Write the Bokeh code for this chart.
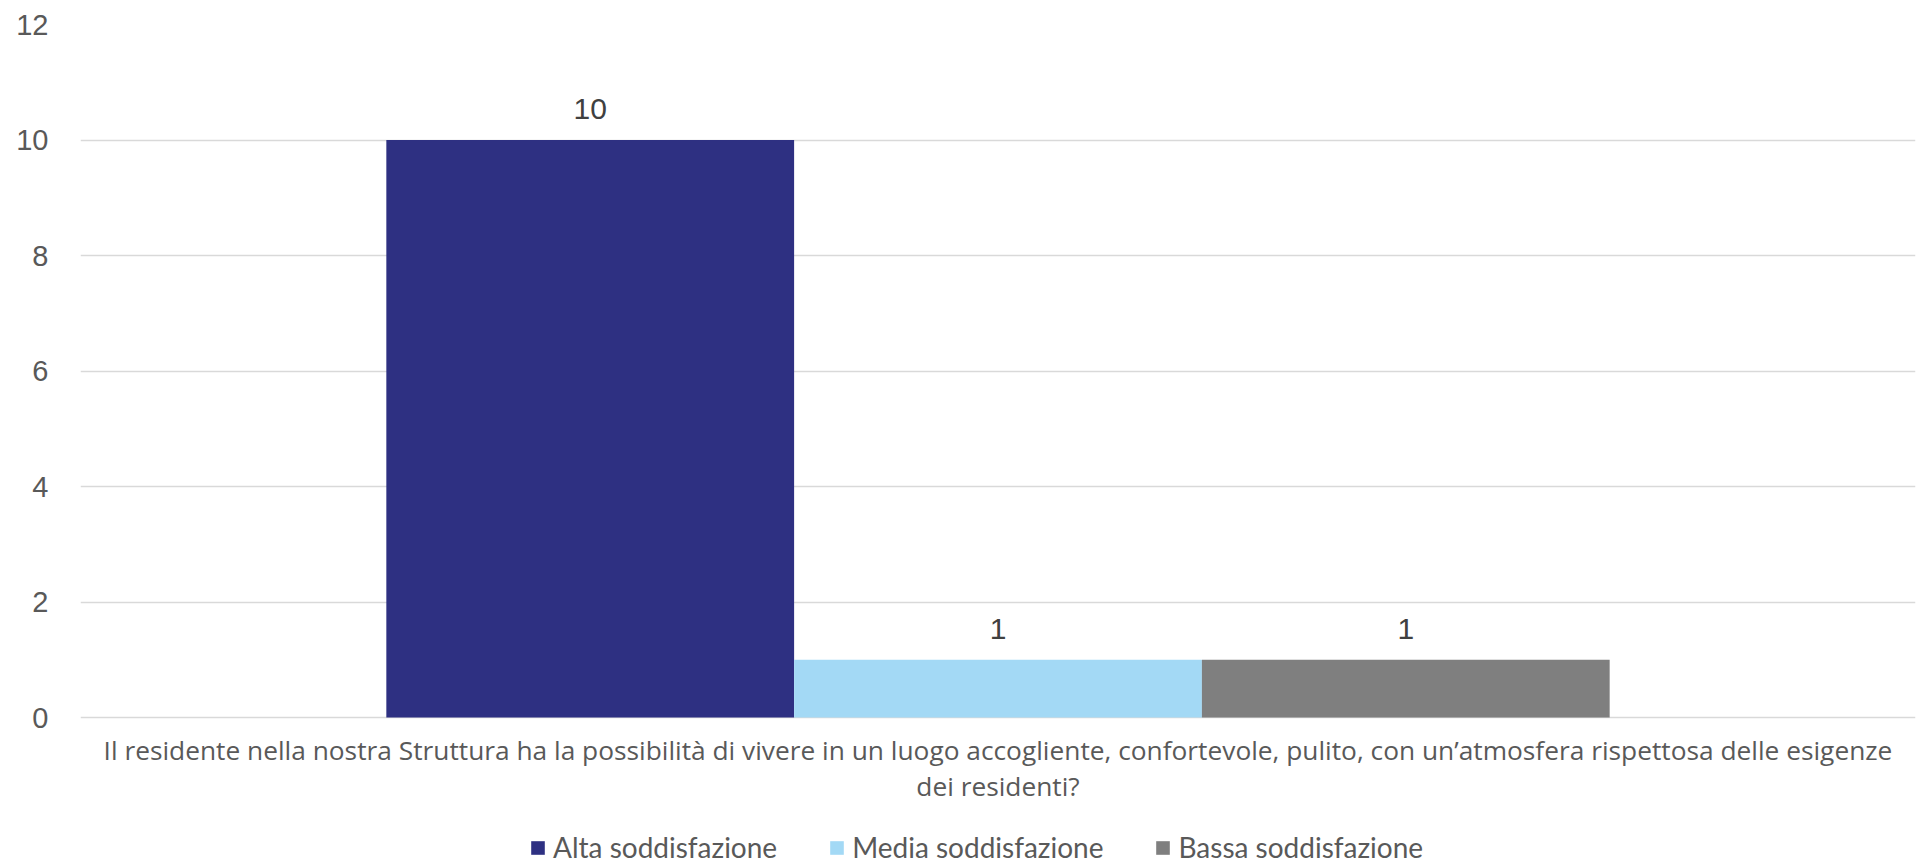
from bokeh.plotting import figure
from bokeh.models import FactorRange, ColumnDataSource, Legend, LegendItem, Range1d, FixedTicker
from bokeh.transform import dodge
from bokeh.core.properties import value
from bokeh.embed import file_html
from bokeh.resources import INLINE

# ---- data ----
categories = ["Il residente nella nostra Struttura ha la possibilità di vivere in un luogo accogliente, confortevole, pulito, con un’atmosfera rispettosa delle esigenze dei residenti?"]
category_label_lines = [
    "Il residente nella nostra Struttura ha la possibilità di vivere in un luogo accogliente, confortevole, pulito, con un’atmosfera rispettosa delle esigenze",
    "dei residenti?",
]
series_names = ["Alta soddisfazione", "Media soddisfazione", "Bassa soddisfazione"]
alta = [10]
media = [1]
bassa = [1]
series_colors = ["#2E3082", "#A3D9F5", "#7F7F7F"]
y_ticks = [0, 2, 4, 6, 8, 10, 12]

# ---- layout constants ----
W, H = 1921, 864
FRAME_LEFT, FRAME_RIGHT_PAD, FRAME_TOP = 80, 6, 24
PX_PER_UNIT = 693 / 12.0
y_top = 12
# frame runs to the bottom edge so the category label and legend sit inside it
y_bottom = y_top - (H - FRAME_TOP) / PX_PER_UNIT

# ---- source ----
series_values = [alta, media, bassa]
data = {"cat": categories, "cat_label": ["\n".join(category_label_lines)]}
for i, vals in enumerate(series_values):
    data[f"v{i}"] = vals
    data[f"l{i}"] = [str(v) for v in vals]
source = ColumnDataSource(data)

bar_w = 1 / 4.5  # Excel gap width 150%
offsets = [-bar_w, 0.0, bar_w]

p = figure(
    x_range=FactorRange(factors=categories, range_padding=0),
    y_range=Range1d(y_bottom, y_top),
    width=W, height=H,
    output_backend="svg", toolbar_location=None,
    x_axis_location=None,
    min_border_left=FRAME_LEFT, min_border_right=FRAME_RIGHT_PAD,
    min_border_top=FRAME_TOP, min_border_bottom=0,
)
p.outline_line_color = None
p.background_fill_color = "white"
p.border_fill_color = "white"

p.xgrid.grid_line_color = None
p.ygrid.grid_line_color = "#D9D9D9"
p.ygrid.grid_line_width = 1.3

p.yaxis.ticker = FixedTicker(ticks=y_ticks)
p.yaxis.axis_line_color = None
p.yaxis.major_tick_line_color = None
p.yaxis.minor_tick_line_color = None
p.yaxis.major_tick_out = 0
p.yaxis.major_label_standoff = 32
p.yaxis.major_label_text_font = "Liberation Sans"
p.yaxis.major_label_text_font_size = "29px"
p.yaxis.major_label_text_color = "#595959"

items = []
for i in range(3):
    r = p.vbar(x=dodge("cat", offsets[i], range=p.x_range), top=f"v{i}", width=bar_w,
               source=source, fill_color=series_colors[i], line_color=None)
    p.text(x=dodge("cat", offsets[i], range=p.x_range), y=f"v{i}", text=f"l{i}",
           source=source, text_align="center", text_baseline="alphabetic",
           y_offset=-31, text_font=value("Liberation Sans"), text_font_size="30px",
           text_color="#404040")
    items.append(LegendItem(label=series_names[i], renderers=[r]))

# category label under the axis
p.text(x="cat", y=0, text="cat_label", source=source,
       text_align="center", text_baseline="top", y_offset=14,
       text_font=value("Open Sans"), text_font_size="26.3px",
       text_color="#595959", text_line_height=1.0)

legend = Legend(
    items=items, orientation="horizontal", location=(449, 0),
    padding=0, margin=0, spacing=51, label_standoff=7,
    glyph_width=17, glyph_height=17,
    label_text_font="Lato", label_text_font_size="28px", label_text_color="#595959",
    border_line_color=None, background_fill_alpha=0,
)
p.add_layout(legend)

open("out.html", "w").write(file_html(p, INLINE))
